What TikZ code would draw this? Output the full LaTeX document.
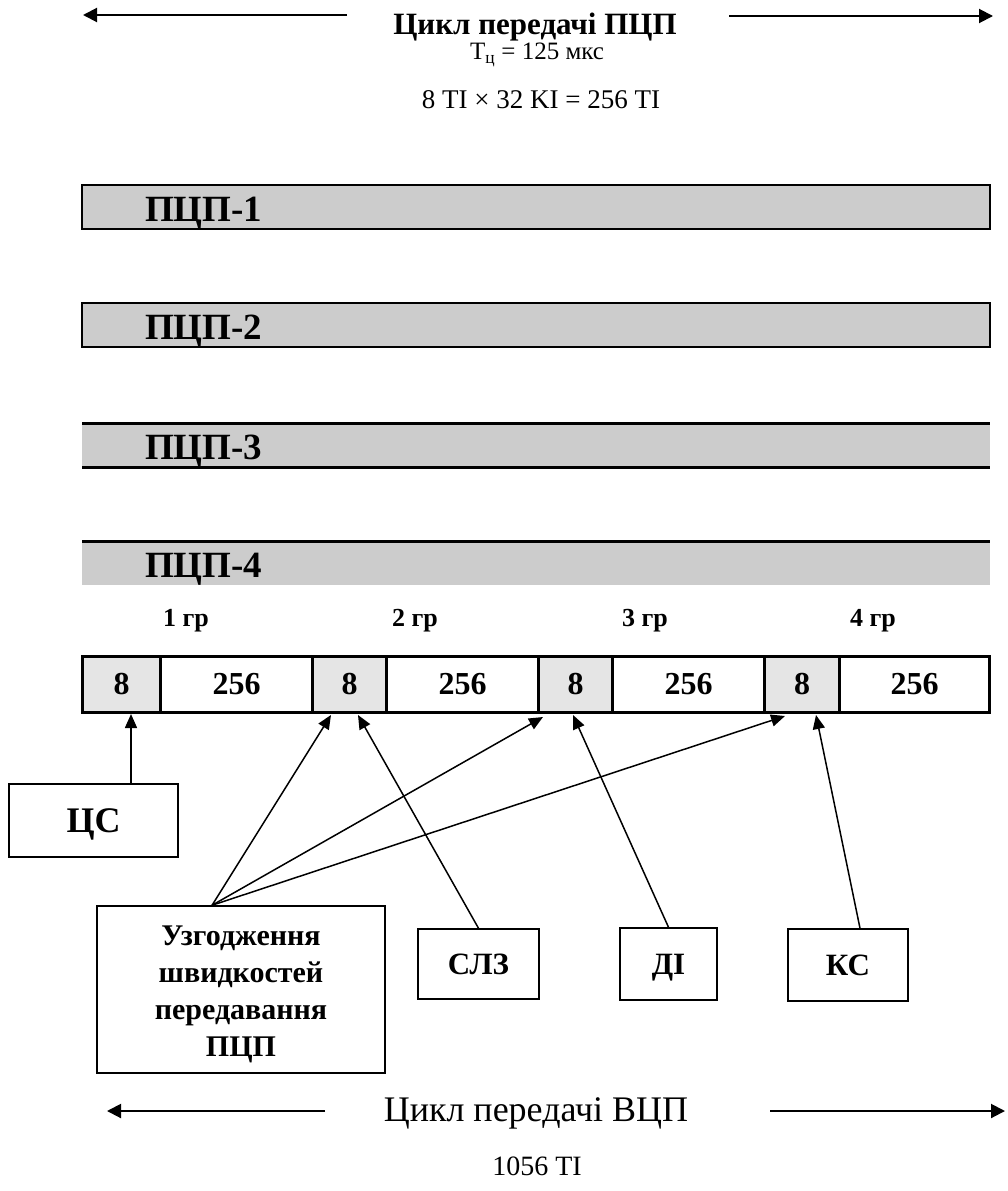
\documentclass[tikz,border=0pt]{standalone}
\usepackage{fontspec}
\setmainfont{Liberation Serif}
\usetikzlibrary{arrows.meta,calc}
\newcommand{\fs}[1]{\fontsize{#1}{#1}\selectfont}
\begin{document}
\begin{tikzpicture}[x=1pt,y=-1pt,
  bigarr/.style={line width=2pt,-{Triangle[length=14pt,width=14pt]}},
  arr/.style={line width=1.5pt,-{Triangle[length=14pt,width=12pt]}},
  bar/.style={fill=black!20},
  cellA/.style={draw,line width=3pt,fill=black!10,minimum height=56,inner sep=0,font=\bfseries\fs{32},anchor=north west},
  cellB/.style={draw,line width=3pt,fill=white,minimum height=56,inner sep=0,font=\bfseries\fs{32},anchor=north west},
  box/.style={draw,line width=1.5pt,inner sep=0,font=\bfseries\fs{31},text height=20.5pt,text depth=0pt},
  lbl/.style={inner sep=0,font=\bfseries\fs{37},anchor=west,text height=24pt,text depth=0pt},
  grp/.style={inner sep=0,font=\bfseries\fs{26}}
]
\useasboundingbox (0,0) rectangle (1008,1191);
% ---- top heading
\node[inner sep=0,font=\bfseries\fs{31}] (title) at (535,27) {Цикл передачі ПЦП};
\node[inner sep=0,font=\fs{25}] (tc) at (537,55) {T\textsubscript{ц} = 125 мкс};
\node[inner sep=0,font=\fs{27}] (calc) at (541,100) {8 TI \texttimes{} 32 KI = 256 TI};
\coordinate (tl1) at (347,15); \coordinate (tl2) at (83,15);
\coordinate (tr1) at (729,16); \coordinate (tr2) at (993,16);
\draw[bigarr] (tl1) -- (tl2);
\draw[bigarr] (tr1) -- (tr2);
% ---- bars
\filldraw[bar,draw=black,line width=2pt] (82,185) rectangle (990,229);
\node[lbl] (p1) at (145,209) {ПЦП-1};
\filldraw[bar,draw=black,line width=2pt] (82,303) rectangle (990,347);
\node[lbl] (p2) at (145,327) {ПЦП-2};
\fill[bar] (82,423) rectangle (990,467);
\draw[line width=3pt] (82,423) -- (990,423) (82,467) -- (990,467);
\node[lbl] (p3) at (145,447) {ПЦП-3};
\fill[bar] (82,541) rectangle (990,585);
\draw[line width=3pt] (82,541) -- (990,541);
\node[lbl] (p4) at (145,565) {ПЦП-4};
% ---- group labels
\node[grp] (g1) at (186,621) {1 гр};
\node[grp] (g2) at (415,621) {2 гр};
\node[grp] (g3) at (645,621) {3 гр};
\node[grp] (g4) at (873,621) {4 гр};
% ---- frame row
\node[cellA,minimum width=78] (c1) at (81,655) {8};
\node[cellB,minimum width=152] (c2) at (159,655) {256};
\node[cellA,minimum width=74] (c3) at (311,655) {8};
\node[cellB,minimum width=152] (c4) at (385,655) {256};
\node[cellA,minimum width=74] (c5) at (537,655) {8};
\node[cellB,minimum width=152] (c6) at (611,655) {256};
\node[cellA,minimum width=75] (c7) at (763,655) {8};
\node[cellB,minimum width=150] (c8) at (838,655) {256};
% ---- boxes
\node[box,minimum width=169,minimum height=73,font=\bfseries\fs{36},text height=24pt] (cs) at (93.5,820.5) {ЦС};
\node[draw,line width=1.5pt,inner sep=0,minimum width=288,minimum height=167,align=center,
  font=\bfseries\fontsize{30}{37}\selectfont] (uz) at (241,989.5)
  {\rule{0pt}{29pt}Узгодження\\швидкостей\\передавання\\ПЦП};
\node[box,minimum width=121,minimum height=70] (sl) at (478.5,964) {СЛЗ};
\node[box,minimum width=97,minimum height=72] (di) at (668.5,964) {ДІ};
\node[box,minimum width=120,minimum height=72] (ks) at (848,965) {КС};
% ---- connectors
\coordinate (t1) at (131,714);
\coordinate (t2) at (331,715);
\coordinate (t3) at (358,715);
\coordinate (t4) at (543,717);
\coordinate (t5) at (573,715);
\coordinate (t6) at (785,716);
\coordinate (t7) at (816,715);
\coordinate (uzap) at ($(uz.north west)!0.4!(uz.north east)$);
\draw[arr] (cs.north -| t1) -- (t1);
\draw[arr] (uzap) -- (t2);
\draw[arr] (uzap) -- (t4);
\draw[arr] (uzap) -- (t6);
\draw[arr] (sl.north) -- (t3);
\draw[arr] (di.north) -- (t5);
\draw[arr] ($(ks.north)+(12,0)$) -- (t7);
% ---- bottom heading
\node[inner sep=0,font=\fs{36}] (vtitle) at (536,1113) {Цикл передачі ВЦП};
\node[inner sep=0,font=\fs{28}] (vti) at (537,1166) {1056 TI};
\coordinate (bl1) at (325,1111); \coordinate (bl2) at (107,1111);
\coordinate (br1) at (770,1111); \coordinate (br2) at (1005,1111);
\draw[bigarr] (bl1) -- (bl2);
\draw[bigarr] (br1) -- (br2);
\end{tikzpicture}
\end{document}
